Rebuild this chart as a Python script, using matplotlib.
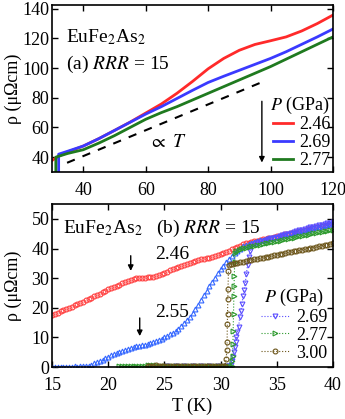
import matplotlib
matplotlib.use('Agg')
import matplotlib.pyplot as plt

plt.rcParams['font.family'] = ['Liberation Serif', 'DejaVu Serif']
plt.rcParams['mathtext.fontset'] = 'stix'
plt.rcParams['font.size'] = 13

# panel (a): resistivity 30-120 K
t_a_246 = [30, 32, 35, 40, 45, 50, 55, 60, 65, 70, 75, 80, 85, 90, 95, 100, 105, 110, 115, 120]
r_a_246 = [37.8, 40.5, 43.5, 47.5, 52.5, 58.0, 63.6, 69.7, 75.8, 83.0, 91.0, 99.5, 106.5, 112.0,
           115.9, 118.4, 121.0, 125.0, 130.0, 135.7]
t_a_269 = [32.1, 32.1, 35, 40, 45, 50, 55, 60, 65, 70, 75, 80, 85, 90, 95, 100, 105, 110, 115, 120]
r_a_269 = [25.0, 42.0, 44.0, 47.5, 52.5, 58.0, 63.5, 69.0, 74.0, 79.5, 85.0, 90.3, 94.5, 98.5,
           102.5, 106.5, 111.0, 116.0, 121.0, 126.3]
t_a_277 = [31.2, 31.2, 35, 40, 45, 50, 55, 60, 65, 70, 75, 80, 85, 90, 95, 100, 105, 110, 115, 120]
r_a_277 = [25.0, 40.0, 42.5, 45.0, 49.5, 54.5, 60.0, 65.5, 70.0, 74.0, 78.5, 83.0, 87.5, 92.0,
           96.5, 101.0, 106.0, 111.0, 116.0, 121.0]
guide_t = [34.8, 98.7]
guide_r = [36.2, 91.8]

# panel (b): low temperature
t_b = [15.0, 15.25, 15.5, 15.75, 16.0, 16.25, 16.5, 16.75, 17.0, 17.25, 17.5, 17.75,
       18.0, 18.25, 18.5, 18.75, 19.0, 19.25, 19.5, 19.75, 20.0, 20.25, 20.5, 20.75,
       21.0, 21.25, 21.5, 21.75, 22.0, 22.25, 22.5, 22.75, 23.0, 23.25, 23.5, 23.75,
       24.0, 24.25, 24.5, 24.75, 25.0, 25.25, 25.5, 25.75, 26.0, 26.25, 26.5, 26.75,
       27.0, 27.25, 27.5, 27.75, 28.0, 28.25, 28.5, 28.75, 29.0, 29.25, 29.5, 29.75,
       30.0, 30.25, 30.5, 30.75, 31.0, 31.25, 31.5, 31.75, 32.0, 32.25, 32.5, 32.75,
       33.0, 33.25, 33.5, 33.75, 34.0, 34.25, 34.5, 34.75, 35.0, 35.25, 35.5, 35.75,
       36.0, 36.25, 36.5, 36.75, 37.0, 37.25, 37.5, 37.75, 38.0, 38.25, 38.5, 38.75,
       39.0, 39.25, 39.5, 39.75, 40.0]
r_b_246 = [17.7, 18.0, 18.4, 18.8, 19.2, 19.6, 20.0, 20.4, 20.8, 21.2, 21.6, 22.0,
           22.5, 22.9, 23.4, 23.9, 24.4, 24.8, 25.3, 25.7, 26.2, 26.6, 27.0, 27.4,
           27.8, 28.3, 28.7, 29.1, 29.5, 29.8, 30.0, 30.1, 30.2, 30.2, 30.3, 30.4,
           30.5, 30.7, 31.0, 31.4, 31.8, 32.2, 32.6, 33.0, 33.4, 33.8, 34.2, 34.6,
           34.9, 35.2, 35.5, 35.8, 36.0, 36.3, 36.5, 36.7, 36.9, 37.1, 37.4, 37.7,
           38.0, 38.4, 38.8, 39.2, 39.7, 40.1, 40.6, 41.0, 41.4, 41.7, 42.0, 42.2,
           42.4, 42.6, 42.8, 43.1, 43.3, 43.5, 43.7, 43.9, 44.1, 44.3, 44.6, 44.8,
           45.0, 45.2, 45.4, 45.6, 45.8, 46.0, 46.3, 46.5, 46.7, 46.9, 47.1, 47.3,
           47.5, 47.7, 47.9, 48.1, 48.3]
r_b_255 = [0.1, 0.1, 0.0, 0.1, 0.1, 0.0, 0.1, 0.1, 0.2, 0.1, 0.2, 0.2,
           0.3, 0.5, 0.8, 1.2, 1.7, 2.1, 2.5, 3.0, 3.5, 3.9, 4.3, 4.7,
           5.1, 5.5, 5.8, 6.2, 6.5, 6.7, 7.0, 7.2, 7.4, 7.6, 7.8, 8.1,
           8.4, 8.8, 9.2, 9.6, 10.0, 10.5, 11.0, 11.6, 12.2, 13.0, 13.8, 14.8,
           15.8, 17.0, 18.2, 19.6, 21.0, 22.6, 24.2, 25.8, 27.3, 28.8, 30.2, 31.6,
           33.0, 34.2, 35.3, 36.4, 37.5, 38.5, 39.3, 40.0, 40.7, 41.2, 41.6, 42.0,
           42.3, 42.6, 42.8, 43.0, 43.2, 43.4, 43.6, 43.8, 44.0, 44.2, 44.5, 44.7,
           44.9, 45.1, 45.3, 45.5, 45.8, 46.0, 46.2, 46.4, 46.7, 46.9, 47.1, 47.3,
           47.6, 47.8, 48.0, 48.2, 48.4]

t_b_269 = [24.75, 25.0, 25.25, 25.5, 25.75, 26.0, 26.25, 26.5, 26.75, 27.0, 27.25, 27.5,
           27.75, 28.0, 28.25, 28.5, 28.75, 29.0, 29.25, 29.5, 29.75, 30.0, 30.25, 30.5,
           30.75, 30.9, 31.0, 31.1, 31.2, 31.25, 31.35, 31.4, 31.5, 31.6, 31.7, 31.8,
           31.9, 32.0, 32.1, 32.2, 32.3, 32.4, 32.5, 32.6, 32.75, 33.0,
           33.25, 33.5, 33.75, 34.0, 34.25, 34.5, 34.75, 35.0, 35.25, 35.5, 35.75, 36.0,
           36.25, 36.5, 36.75, 37.0, 37.25, 37.5, 37.75, 38.0, 38.25, 38.5, 38.75, 39.0,
           39.25, 39.5, 39.75, 40.0]
r_b_269 = [0.1, 0.1, 0.2, 0.1, 0.1, 0.2, 0.1, 0.1, 0.2, 0.1, 0.1, 0.2,
           0.1, 0.1, 0.2, 0.1, 0.1, 0.2, 0.1, 0.1, 0.2, 0.1, 0.1, 0.2,
           0.3, 0.8, 2.0, 3.4, 5.2, 6.7, 8.5, 10.0, 11.8, 13.4, 16.8, 19.0,
           21.3, 24.0, 26.0, 28.5, 31.5, 34.5, 37.0, 39.0, 40.8, 41.6,
           42.0, 42.3, 42.6, 42.9, 43.1, 43.4, 43.7, 44.0, 44.2, 44.5, 44.8, 45.0,
           45.3, 45.5, 45.8, 46.1, 46.3, 46.6, 46.9, 47.1, 47.4, 47.6, 47.9, 48.1,
           48.3, 48.5, 48.6, 48.8]

t_b_277 = [21.0, 21.25, 21.5, 21.75, 22.0, 22.25, 22.5, 22.75, 23.0, 23.25, 23.5, 23.75,
           24.0, 24.25, 24.5, 24.75, 25.0, 25.25, 25.5, 25.75, 26.0, 26.25, 26.5, 26.75,
           27.0, 27.25, 27.5, 27.75, 28.0, 28.25, 28.5, 28.75, 29.0, 29.25, 29.5, 29.75,
           30.0, 30.25, 30.5, 30.75, 31.0, 31.05, 31.08, 31.1, 31.12, 31.15, 31.18, 31.2,
           31.22, 31.26, 31.3, 31.4, 31.6, 31.8,
           32.0, 32.25, 32.5, 32.75, 33.0, 33.25, 33.5, 33.75, 34.0, 34.25, 34.5, 34.75,
           35.0, 35.25, 35.5, 35.75, 36.0, 36.25, 36.5, 36.75, 37.0, 37.25, 37.5, 37.75,
           38.0, 38.25, 38.5, 38.75, 39.0, 39.25, 39.5, 39.75, 40.0]
r_b_277 = [0.2, 0.2, 0.3, 0.2, 0.3, 0.3, 0.4, 0.4, 0.5, 0.5, 0.6, 0.6,
           0.7, 0.6, 0.5, 0.4, 0.3, 0.3, 0.3, 0.2, 0.3, 0.2, 0.3, 0.3,
           0.2, 0.3, 0.2, 0.3, 0.3, 0.2, 0.3, 0.2, 0.3, 0.2, 0.3, 0.3,
           0.2, 0.3, 0.3, 0.4, 0.5, 2.0, 3.8, 7.8, 12.3, 17.9, 24.0, 27.5,
           30.8, 35.6, 38.4, 39.3, 39.6, 39.9,
           40.1, 40.3, 40.5, 40.7, 40.9, 41.1, 41.3, 41.5, 41.7, 41.9, 42.1, 42.3,
           42.5, 42.7, 42.9, 43.1, 43.3, 43.5, 43.7, 43.9, 44.1, 44.3, 44.5, 44.7,
           44.9, 45.1, 45.3, 45.5, 45.7, 45.9, 46.0, 46.2, 46.4]

t_b_300 = [23.5, 23.75, 24.0, 24.25, 24.5, 24.75, 25.0, 25.25, 25.5, 25.75, 26.0, 26.25,
           26.5, 26.75, 27.0, 27.25, 27.5, 27.75, 28.0, 28.25, 28.5, 28.75, 29.0, 29.25,
           29.5, 29.75, 30.0, 30.25, 30.4, 30.5, 30.55, 30.58, 30.6, 30.62, 30.64, 30.66,
           30.7, 30.75, 30.9, 31.1,
           31.25, 31.5, 31.75, 32.0, 32.25, 32.5, 32.75, 33.0, 33.25, 33.5, 33.75, 34.0,
           34.25, 34.5, 34.75, 35.0, 35.25, 35.5, 35.75, 36.0, 36.25, 36.5, 36.75, 37.0,
           37.25, 37.5, 37.75, 38.0, 38.25, 38.5, 38.75, 39.0, 39.25, 39.5, 39.75, 40.0]
r_b_300 = [0.3, 0.4, 0.5, 0.6, 0.5, 0.4, 0.3, 0.2, 0.2, 0.3, 0.2, 0.2,
           0.3, 0.2, 0.2, 0.3, 0.2, 0.2, 0.3, 0.2, 0.2, 0.3, 0.2, 0.2,
           0.3, 0.2, 0.3, 0.3, 0.5, 2.8, 5.6, 8.4, 14.6, 17.9, 23.0, 26.3,
           32.5, 34.5, 34.8, 34.9,
           35.0, 35.2, 35.4, 35.6, 35.8, 36.0, 36.2, 36.3, 36.5, 36.7, 36.9, 37.1,
           37.3, 37.5, 37.7, 37.9, 38.1, 38.3, 38.5, 38.7, 38.8, 39.0, 39.2, 39.4,
           39.6, 39.8, 40.0, 40.2, 40.3, 40.5, 40.7, 40.9, 41.1, 41.3, 41.5, 41.8]

red = '#ff2a2a'
blue = '#3a3aff'
green = '#1f7a1f'

fig = plt.figure(figsize=(3.45, 4.19), dpi=100)
ax1 = fig.add_axes([0.151, 0.5895, 0.814, 0.3986])
ax2 = fig.add_axes([0.151, 0.124, 0.814, 0.389])

for ax in (ax1, ax2):
    ax.tick_params(direction='in', top=True, right=True, length=4, width=1, labelsize=13)
    ax.tick_params(axis='x', pad=7)
    ax.tick_params(axis='y', pad=2)
    for s in ax.spines.values():
        s.set_linewidth(1.2)

# (a)
ax1.plot(t_a_246, r_a_246, color=red, lw=2, label='2.46')
ax1.plot(t_a_269, r_a_269, color=blue, lw=2, label='2.69')
ax1.plot(t_a_277, r_a_277, color=green, lw=2, label='2.77')
ax1.plot(guide_t, guide_r, color='black', lw=1.5, ls=(0, (4, 4)))
ax1.set_xlim(30, 120)
ax1.set_ylim(30, 142.5)
ax1.set_xticks([40, 60, 80, 100, 120])
ax1.set_yticks([40, 60, 80, 100, 120, 140])
ax1.set_ylabel('ρ (μΩcm)', labelpad=0, fontsize=13)
ax1.text(0.05, 0.775, 'EuFe$_2$As$_2$', transform=ax1.transAxes, fontsize=14)
ax1.text(0.05, 0.615, '(a) $RRR$ = 15', transform=ax1.transAxes, fontsize=14)
ax1.text(61, 47, r'$\propto$ $T$', fontsize=14)
leg1 = ax1.legend(title='$P$ (GPa)', loc='lower right', frameon=False, fontsize=13,
                  title_fontsize=13, handlelength=1.1, handletextpad=0.35,
                  labelspacing=0.05, borderpad=0.0, borderaxespad=0.15)
leg1._legend_box.align = 'right'
ax1.annotate('', xy=(0.747, 0.04), xytext=(0.747, 0.44), xycoords='axes fraction',
             arrowprops=dict(arrowstyle='-|>', color='black', lw=1, mutation_scale=8))

# (b)
mk = dict(fillstyle='none', markersize=3.5, mew=0.8)
ax2.plot(t_b, r_b_246, 'o', color='#ff4040', ls='none', **mk)
ax2.plot(t_b, r_b_255, '^', color='#3366ff', ls='none', **mk)
l269, = ax2.plot(t_b_269, r_b_269, 'v', color='#5a4dff', ls=':', lw=0.8, **mk)
l277, = ax2.plot(t_b_277, r_b_277, '>', color='#2e9a2e', ls=':', lw=0.8, **mk)
l300, = ax2.plot(t_b_300, r_b_300, 'o', color='#6b5418', ls=':', lw=0.8, **mk)
ax2.set_xlim(15, 40)
ax2.set_ylim(0, 55)
ax2.set_xticks([15, 20, 25, 30, 35, 40])
ax2.set_yticks([0, 10, 20, 30, 40, 50])
ax2.set_xlabel('T (K)', labelpad=3, fontsize=13)
ax2.set_ylabel('ρ (μΩcm)', labelpad=7, fontsize=13)
ax2.text(0.04, 0.82, 'EuFe$_2$As$_2$', transform=ax2.transAxes, fontsize=14)
ax2.text(0.37, 0.82, '(b) $RRR$ = 15', transform=ax2.transAxes, fontsize=14)
ax2.text(24.2, 36.5, '2.46', fontsize=14)
ax2.text(24.2, 17, '2.55', fontsize=14)
ax2.annotate('', xy=(22.0, 31.5), xytext=(22.0, 38.5),
             arrowprops=dict(arrowstyle='-|>', color='black', lw=1, mutation_scale=8))
ax2.annotate('', xy=(22.8, 9.5), xytext=(22.8, 17.5),
             arrowprops=dict(arrowstyle='-|>', color='black', lw=1, mutation_scale=8))
ax2.legend([l269, l277, l300], ['2.69', '2.77', '3.00'], title='$P$ (GPa)',
           loc='lower right', frameon=False, fontsize=13, title_fontsize=13,
           handlelength=1.6, handletextpad=0.35, labelspacing=0.05,
           borderpad=0.1, borderaxespad=0.2)

fig.savefig('out.png', dpi=100)
